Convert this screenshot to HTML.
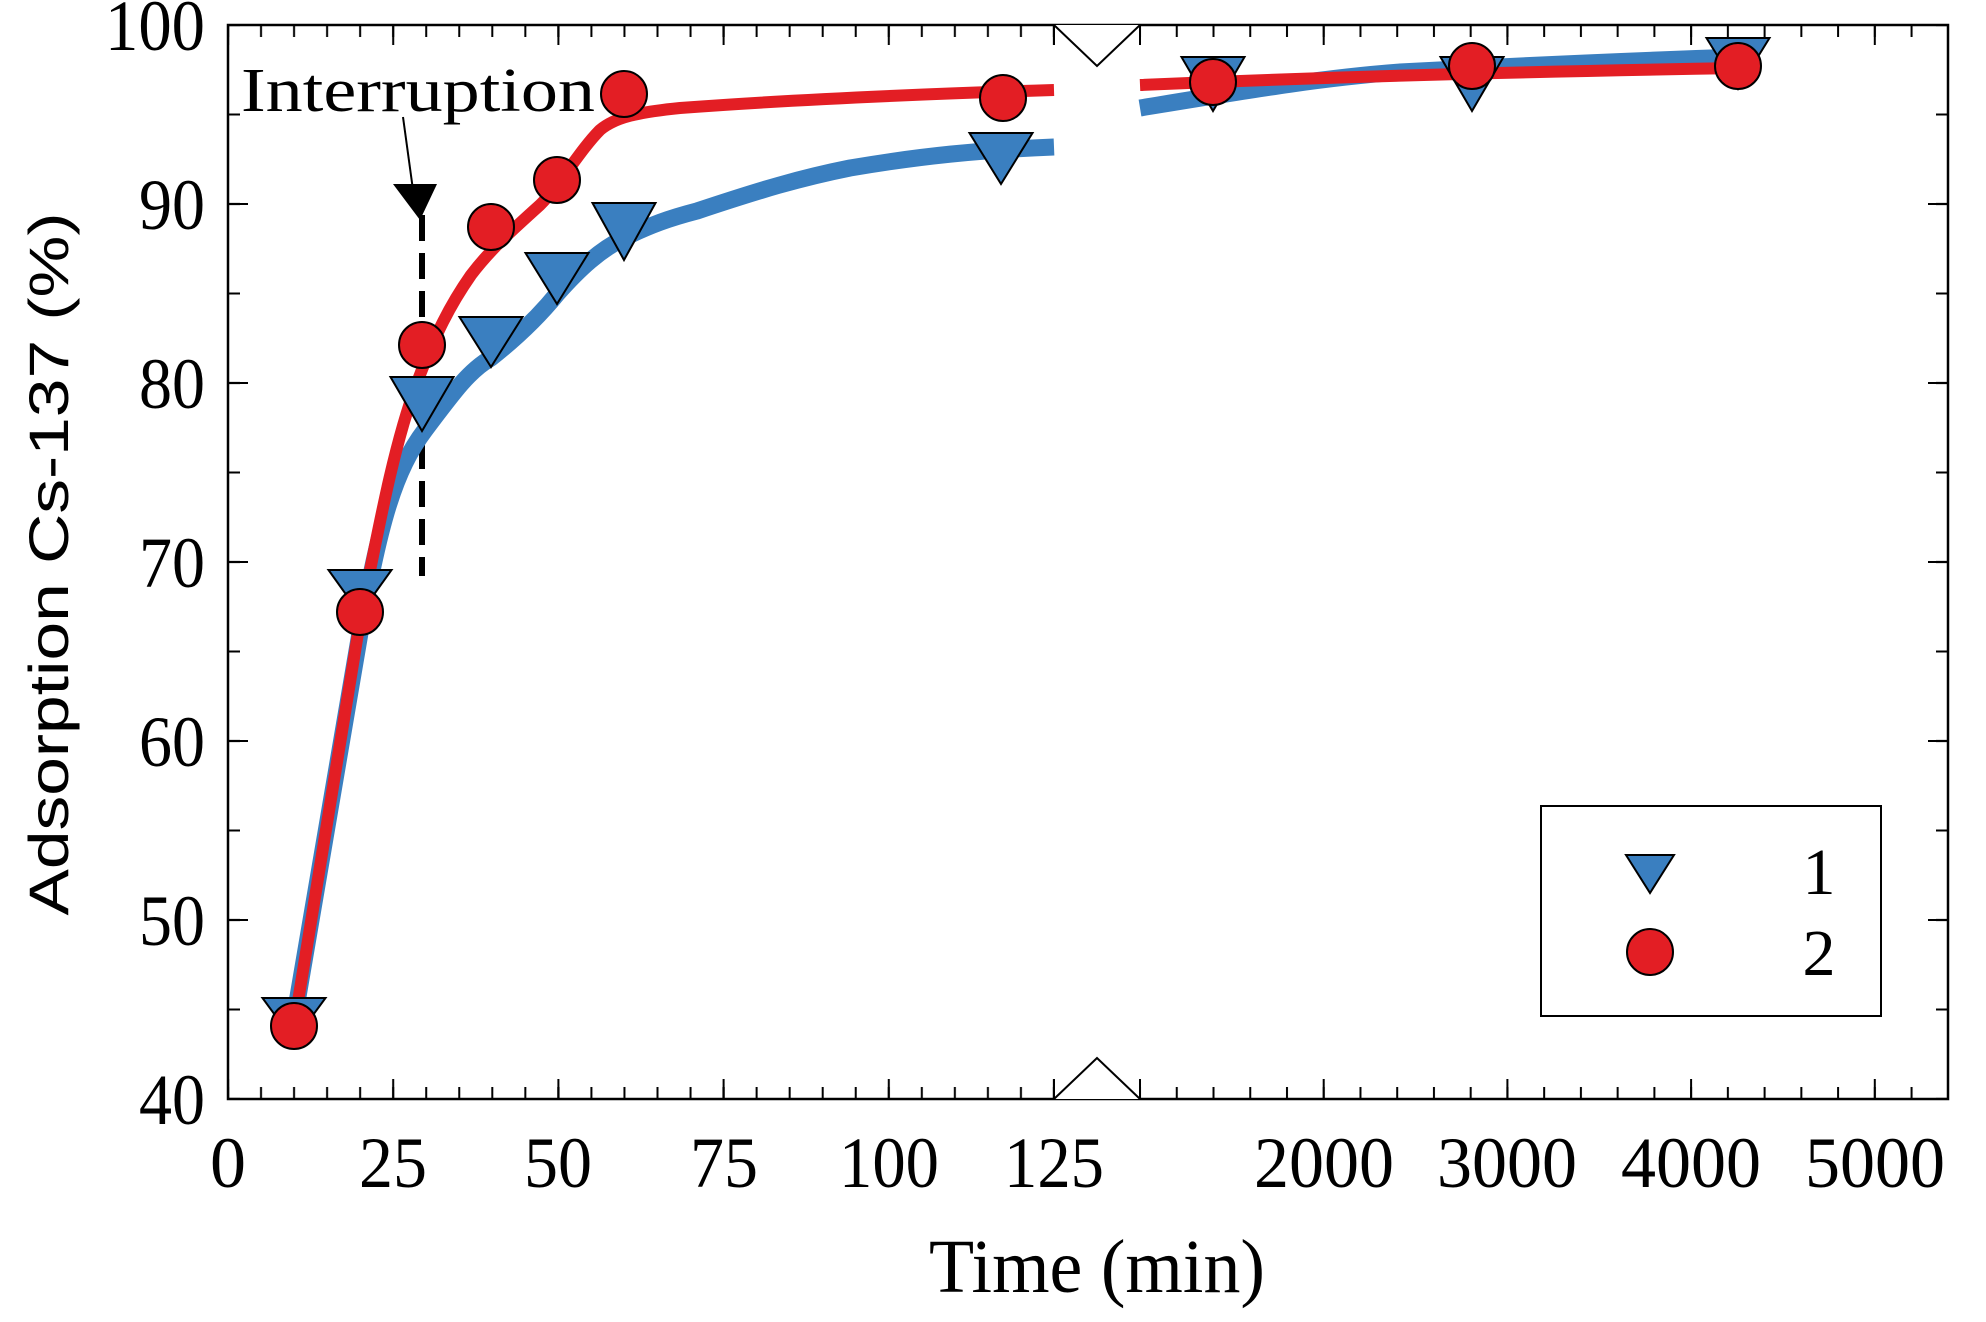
<!DOCTYPE html>
<html><head><meta charset="utf-8"><style>html,body{margin:0;padding:0;background:#fff}svg{display:block}</style></head>
<body>
<svg width="1986" height="1322" viewBox="0 0 1986 1322" xmlns="http://www.w3.org/2000/svg">
<defs>
<pattern id="bmin1" patternUnits="userSpaceOnUse" x="211.48" y="0" width="33.04" height="1322"><rect x="15.5" y="0" width="2" height="1322" fill="#000"/></pattern>
<pattern id="bmaj1" patternUnits="userSpaceOnUse" x="145.4" y="0" width="165.2" height="1322"><rect x="81.6" y="0" width="2" height="1322" fill="#000"/></pattern>
<pattern id="bmin2" patternUnits="userSpaceOnUse" x="1121.63" y="0" width="36.74" height="1322"><rect x="17.4" y="0" width="2" height="1322" fill="#000"/></pattern>
<pattern id="bmaj2" patternUnits="userSpaceOnUse" x="1048.15" y="0" width="183.7" height="1322"><rect x="90.85" y="0" width="2" height="1322" fill="#000"/></pattern>
<pattern id="ymin" patternUnits="userSpaceOnUse" x="0" y="-19.75" width="1986" height="89.5"><rect x="0" y="43.75" width="1986" height="2" fill="#000"/></pattern>
<pattern id="ymaj" patternUnits="userSpaceOnUse" x="0" y="-64.5" width="1986" height="179"><rect x="0" y="88.5" width="1986" height="2" fill="#000"/></pattern>
</defs>
<rect x="229" y="1087" width="825" height="12" fill="url(#bmin1)"/>
<rect x="229" y="1079" width="825" height="20" fill="url(#bmaj1)"/>
<rect x="1140" y="1087" width="807" height="12" fill="url(#bmin2)"/>
<rect x="1140" y="1079" width="807" height="20" fill="url(#bmaj2)"/>
<rect x="229" y="25" width="825" height="12" fill="url(#bmin1)"/>
<rect x="229" y="25" width="825" height="20" fill="url(#bmaj1)"/>
<rect x="1140" y="25" width="807" height="12" fill="url(#bmin2)"/>
<rect x="1140" y="25" width="807" height="20" fill="url(#bmaj2)"/>
<rect x="228" y="26" width="12" height="1072" fill="url(#ymin)"/>
<rect x="228" y="26" width="20" height="1072" fill="url(#ymaj)"/>
<rect x="1936" y="26" width="12" height="1072" fill="url(#ymin)"/>
<rect x="1928" y="26" width="20" height="1072" fill="url(#ymaj)"/>
<rect x="228" y="25" width="1720" height="1074" fill="none" stroke="#000" stroke-width="2.5"/>
<polyline points="1054,25 1097,66 1140,25" fill="#fff" stroke="#000" stroke-width="2"/>
<polyline points="1054,1099 1097,1058 1140,1099" fill="#fff" stroke="#000" stroke-width="2"/>
<line x1="1054" y1="25" x2="1054" y2="45" stroke="#000" stroke-width="2"/>
<line x1="1140" y1="25" x2="1140" y2="45" stroke="#000" stroke-width="2"/>
<line x1="1054" y1="1079" x2="1054" y2="1099" stroke="#000" stroke-width="2"/>
<line x1="1140" y1="1079" x2="1140" y2="1099" stroke="#000" stroke-width="2"/>

<line x1="422" y1="215" x2="422" y2="576" stroke="#000" stroke-width="6" stroke-dasharray="26,12"/>
<line x1="403" y1="117" x2="413" y2="190" stroke="#000" stroke-width="2"/>
<polygon points="393,184 437,184 420,220" fill="#000"/>
<text x="241" y="111" font-family="Liberation Serif, serif" font-size="62" textLength="354" lengthAdjust="spacingAndGlyphs">Interruption</text>

<path d="M294,1020 L360,633 C380,520 395,470 425,430 C455,390 470,370 491,358 C520,335 540,315 557,294 C580,268 600,250 624,238 C650,225 670,218 697,211 C760,190 800,178 850,168 C920,156 980,150 1054,147" fill="none" stroke="#3a7fc0" stroke-width="17" stroke-linejoin="round"/>
<path d="M1140,108 C1250,90 1320,78 1400,72 C1550,64 1650,60 1740,57" fill="none" stroke="#3a7fc0" stroke-width="17"/>
<path d="M294,1026 L360,621 C380,520 395,440 418,380 C435,335 450,305 471,275 C490,250 510,232 540,205 C560,185 580,150 600,130 C615,117 640,112 680,108 C760,102 887,95 1054,90" fill="none" stroke="#e31e24" stroke-width="12" stroke-linejoin="round"/>
<path d="M1140,85 C1300,78 1500,72 1740,68" fill="none" stroke="#e31e24" stroke-width="12"/>

<g fill="#3a7fc0" stroke="#000" stroke-width="2">
<polygon points="262.5,998 325.5,998 294,1041"/>
<polygon points="328.5,570 391.5,570 360,614"/>
<polygon points="390.5,377 453.5,377 422,431"/>
<polygon points="459.5,317 522.5,317 491,367"/>
<polygon points="525.5,253 588.5,253 557,304"/>
<polygon points="592.5,203 655.5,203 624,260"/>
<polygon points="969.5,133 1032.5,133 1001,184"/>
<polygon points="1181.5,57 1244.5,57 1213,111"/>
<polygon points="1440.5,57 1503.5,57 1472,111"/>
<polygon points="1706.5,38 1769.5,38 1738,89"/>
</g>
<g fill="#e31e24" stroke="#000" stroke-width="2">
<circle cx="294" cy="1026" r="23"/>
<circle cx="360" cy="612" r="23"/>
<circle cx="422" cy="345" r="23"/>
<circle cx="491" cy="227" r="23"/>
<circle cx="557" cy="180" r="23"/>
<circle cx="624" cy="94" r="23"/>
<circle cx="1003" cy="98" r="23"/>
<circle cx="1213" cy="82" r="23"/>
<circle cx="1472" cy="66" r="23"/>
<circle cx="1738" cy="66" r="23"/>
</g>

<rect x="1541" y="806" width="340" height="210" fill="#fff" stroke="#000" stroke-width="2"/>
<polygon points="1626,855 1674,855 1650,893" fill="#3a7fc0" stroke="#000" stroke-width="2"/>
<circle cx="1650" cy="952" r="23" fill="#e31e24" stroke="#000" stroke-width="2"/>
<g font-family="Liberation Serif, serif" font-size="66" text-anchor="middle">
<text x="1819" y="894">1</text>
<text x="1819" y="975">2</text>
</g>

<g font-family="Liberation Serif, serif" font-size="72" text-anchor="end">
<text x="205" y="50" textLength="100" lengthAdjust="spacingAndGlyphs">100</text>
<text x="205" y="229" textLength="66" lengthAdjust="spacingAndGlyphs">90</text>
<text x="205" y="408" textLength="66" lengthAdjust="spacingAndGlyphs">80</text>
<text x="205" y="587" textLength="66" lengthAdjust="spacingAndGlyphs">70</text>
<text x="205" y="766" textLength="66" lengthAdjust="spacingAndGlyphs">60</text>
<text x="205" y="945" textLength="66" lengthAdjust="spacingAndGlyphs">50</text>
<text x="205" y="1124" textLength="66" lengthAdjust="spacingAndGlyphs">40</text>
</g>
<g font-family="Liberation Serif, serif" font-size="72" text-anchor="middle">
<text x="228" y="1187">0</text>
<text x="393" y="1187" textLength="68" lengthAdjust="spacingAndGlyphs">25</text>
<text x="558" y="1187" textLength="68" lengthAdjust="spacingAndGlyphs">50</text>
<text x="724" y="1187" textLength="68" lengthAdjust="spacingAndGlyphs">75</text>
<text x="889" y="1187" textLength="100" lengthAdjust="spacingAndGlyphs">100</text>
<text x="1054" y="1187" textLength="100" lengthAdjust="spacingAndGlyphs">125</text>
<text x="1324" y="1187" textLength="140" lengthAdjust="spacingAndGlyphs">2000</text>
<text x="1507" y="1187" textLength="140" lengthAdjust="spacingAndGlyphs">3000</text>
<text x="1691" y="1187" textLength="140" lengthAdjust="spacingAndGlyphs">4000</text>
<text x="1875" y="1187" textLength="140" lengthAdjust="spacingAndGlyphs">5000</text>
</g>
<text x="1097" y="1292" font-family="Liberation Serif, serif" font-size="76" text-anchor="middle" textLength="336" lengthAdjust="spacingAndGlyphs">Time (min)</text>
<text transform="translate(68,564) rotate(-90)" font-family="Liberation Sans, sans-serif" font-size="56" text-anchor="middle" textLength="703" lengthAdjust="spacingAndGlyphs">Adsorption Cs-137 (%)</text>
</svg>
</body></html>
